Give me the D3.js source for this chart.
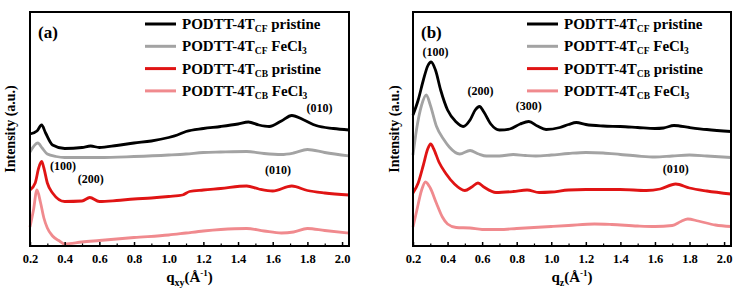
<!DOCTYPE html>
<html>
<head>
    <title>GIWAXS line cuts - PODTT-4T</title>
    <script src="https://d3js.org/d3.v7.min.js"></script>
    <style>
        body { margin: 0; background: #fff; }
        svg { display: block; }
        svg text { font-family: "Liberation Serif", "Times New Roman", serif; font-weight: bold; }
        .curve { fill: none; stroke-width: 2.8; stroke-linejoin: round; }
    </style>
</head>
<body>
    <svg width="739" height="293" font-family="Liberation Serif" font-weight="bold"></svg>
    <script>
        // series names / colours
        var solvents = ["CF", "CF", "CB", "CB"];
        var treatments = ["pristine", "FeCl", "pristine", "FeCl"];
        var colors = ["#000000", "#a3a3a3", "#e01414", "#f08a8e"];

        // tick values for q axis
        var majorTicks = [0.2, 0.4, 0.6, 0.8, 1.0, 1.2, 1.4, 1.6, 1.8, 2.0];
        var minorTicks = [0.3, 0.5, 0.7, 0.9, 1.1, 1.3, 1.5, 1.7, 1.9];

        // (a) in-plane q_xy cuts, [q, intensity a.u.]
        var a_cfPristine = [[0.2,112],[0.24,115],[0.267,121],[0.29,113],[0.33,101],[0.4,97.5],[0.5,98.5],[0.55,100],[0.6,98.5],[0.7,100.5],[0.8,103],[0.9,105],[1.0,108.5],[1.05,111],[1.1,114.5],[1.2,117.5],[1.3,119.5],[1.4,122],[1.46,124],[1.52,121],[1.58,119.5],[1.65,125],[1.71,130.5],[1.78,126],[1.85,120.5],[1.95,117.5],[2.04,116]];
        var a_cfFeCl3 = [[0.2,94],[0.245,103],[0.27,98],[0.3,92],[0.35,89.5],[0.4,88.5],[0.6,88.5],[0.8,89.5],[1.0,91],[1.1,92],[1.2,93.5],[1.3,94],[1.45,94.5],[1.55,92.5],[1.65,91.5],[1.72,93],[1.8,96.5],[1.9,93.5],[2.04,90]];
        var a_cbPristine = [[0.2,56],[0.23,63],[0.25,78],[0.267,84.5],[0.28,78],[0.3,63],[0.33,53],[0.4,44.5],[0.5,45],[0.545,48.5],[0.6,44.5],[0.7,45.5],[0.8,47],[0.9,48],[1.0,49.5],[1.08,51],[1.12,54.5],[1.2,56],[1.3,57.5],[1.45,60],[1.52,57],[1.6,55],[1.71,60],[1.8,55.5],[1.9,53],[2.04,51]];
        var a_cbFeCl3 = [[0.2,19],[0.22,36],[0.24,56],[0.26,44],[0.28,28],[0.3,18],[0.33,10],[0.37,5],[0.4,2],[0.5,4],[0.6,5.5],[0.8,8.5],[1.0,11],[1.1,13],[1.2,15],[1.3,16.5],[1.45,17.5],[1.55,15],[1.65,13],[1.72,14],[1.8,17.5],[1.9,15.5],[2.04,13]];

        // (b) out-of-plane q_z cuts
        var b_cfPristine = [[0.2,131],[0.23,146],[0.26,166],[0.285,180],[0.305,184],[0.33,176],[0.36,156],[0.4,136],[0.45,124],[0.49,119.5],[0.53,126],[0.56,136],[0.585,139.5],[0.61,134],[0.65,122],[0.7,116],[0.76,117],[0.82,122],[0.87,124.5],[0.92,120],[0.97,116.5],[1.05,118.5],[1.1,121.5],[1.145,123.5],[1.2,121.5],[1.3,120],[1.4,119.5],[1.5,118.5],[1.6,117.5],[1.65,118],[1.71,120.5],[1.8,118.5],[1.9,116.5],[2.04,114.5]];
        var b_cfFeCl3 = [[0.2,91],[0.22,116],[0.25,141],[0.277,151],[0.3,141],[0.335,120],[0.38,106],[0.41,99],[0.47,92],[0.53,95.5],[0.58,92],[0.625,90],[0.7,90],[0.78,91.5],[0.85,90.5],[0.91,90],[1.0,91],[1.1,92.5],[1.2,93.5],[1.3,93],[1.4,91.5],[1.5,90],[1.6,89],[1.7,90],[1.8,91],[1.9,90],[2.04,88.5]];
        var b_cbPristine = [[0.2,53],[0.23,63],[0.26,81],[0.285,97],[0.302,102],[0.32,97],[0.35,84],[0.39,72.5],[0.44,62],[0.5,55.5],[0.54,59],[0.576,63],[0.61,59],[0.68,53.5],[0.78,54.5],[0.86,56],[0.93,53.5],[1.0,54],[1.1,56],[1.2,56.5],[1.4,56.5],[1.55,55.5],[1.63,57],[1.72,62],[1.8,58],[1.9,55],[2.04,52]];
        var b_cbFeCl3 = [[0.2,19],[0.22,34],[0.25,56],[0.272,64],[0.3,58],[0.335,43],[0.37,29],[0.4,22],[0.45,18.5],[0.53,18],[0.6,16.5],[0.7,16.5],[0.8,17.5],[1.0,19.5],[1.1,20.5],[1.25,22],[1.35,21.5],[1.5,20],[1.6,19.5],[1.7,20.5],[1.75,24.5],[1.79,27],[1.85,25],[1.95,21],[2.04,19.5]];

        // peak annotations [q, intensity, label]
        var a_peaks = [[1.87,134,"(010)"],[0.39,76,"(100)"],[0.55,63,"(200)"],[1.63,72,"(010)"]];
        var b_peaks = [[0.33,190,"(100)"],[0.59,151,"(200)"],[0.87,136,"(300)"],[1.72,73,"(010)"]];

        var svg = d3.select("svg");

        function drawPanel(opt) {
            var x = d3.scaleLinear().domain([0.2, 2.04]).range([opt.left, opt.right]);
            var y = d3.scaleLinear().domain([0, 234]).range([246, 12]);
            var g = svg.append("g");

            var line = d3.line()
                .x(function(d) { return x(d[0]); })
                .y(function(d) { return y(d[1]); })
                .curve(d3.curveMonotoneX);

            // curves, bottom one first
            opt.series.slice().reverse().forEach(function(s, i) {
                var k = opt.series.length - 1 - i;
                g.append("path")
                    .datum(s)
                    .attr("class", "curve")
                    .attr("stroke", colors[k])
                    .attr("d", line);
            });

            // frame
            g.append("rect")
                .attr("x", opt.left).attr("y", 12)
                .attr("width", opt.right - opt.left).attr("height", 234)
                .attr("fill", "none").attr("stroke", "#000").attr("stroke-width", 2);

            // bottom axis, ticks pointing in
            var ax = g.append("g")
                .attr("transform", "translate(0,246)")
                .call(d3.axisBottom(x).tickValues(majorTicks).tickSize(-4).tickPadding(8)
                    .tickFormat(d3.format(".1f")));
            ax.attr("font-family", null).attr("font-size", null);
            ax.select(".domain").remove();
            ax.selectAll("line").attr("stroke-width", 1.5);
            ax.selectAll("text").attr("font-size", 12.5).attr("fill", "#000");

            var ax2 = g.append("g")
                .attr("transform", "translate(0,246)")
                .call(d3.axisBottom(x).tickValues(minorTicks).tickSize(-2.5).tickFormat(""));
            ax2.select(".domain").remove();
            ax2.selectAll("line").attr("stroke-width", 1.2);

            // x title
            var xt = g.append("text")
                .attr("x", (opt.left + opt.right) / 2)
                .attr("y", 282)
                .attr("text-anchor", "middle")
                .attr("font-size", 15);
            xt.append("tspan").text("q");
            xt.append("tspan").attr("font-size", 10).attr("dy", 4).text(opt.sub);
            xt.append("tspan").attr("dy", -4).text("(\u00C5");
            xt.append("tspan").attr("font-size", 9).attr("dy", -6).text("-1");
            xt.append("tspan").attr("dy", 6).text(")");

            // y title
            g.append("text")
                .attr("transform", "translate(" + opt.ylab + ",129) rotate(-90)")
                .attr("text-anchor", "middle")
                .attr("font-size", 14)
                .text("Intensity (a.u.)");

            // panel letter
            g.append("text")
                .attr("x", opt.left + 8).attr("y", 38)
                .attr("font-size", 17)
                .text(opt.letter);

            // legend
            var lx = opt.left + opt.legendX;
            solvents.forEach(function(sv, i) {
                var ly = 24 + i * 22.3;
                g.append("line")
                    .attr("x1", lx).attr("x2", lx + 31)
                    .attr("y1", ly).attr("y2", ly)
                    .attr("stroke", colors[i]).attr("stroke-width", 3);
                var t = g.append("text")
                    .attr("x", lx + 37).attr("y", ly + 5)
                    .attr("font-size", 15);
                t.append("tspan").text("PODTT-4T");
                t.append("tspan").attr("font-size", 9.5).attr("dy", 3).text(sv);
                if (treatments[i] === "FeCl") {
                    t.append("tspan").attr("dy", -3).text(" FeCl");
                    t.append("tspan").attr("font-size", 9.5).attr("dy", 3).text("3");
                } else {
                    t.append("tspan").attr("dy", -3).text(" " + treatments[i]);
                }
            });

            // peak labels
            opt.peaks.forEach(function(p) {
                g.append("text")
                    .attr("x", x(p[0])).attr("y", y(p[1]))
                    .attr("text-anchor", "middle")
                    .attr("font-size", 12)
                    .text(p[2]);
            });
        }

        drawPanel({
            left: 30, right: 349, ylab: 15, letter: "(a)", sub: "xy", legendX: 115,
            series: [a_cfPristine, a_cfFeCl3, a_cbPristine, a_cbFeCl3], peaks: a_peaks
        });
        drawPanel({
            left: 413, right: 731, ylab: 399, letter: "(b)", sub: "z", legendX: 114,
            series: [b_cfPristine, b_cfFeCl3, b_cbPristine, b_cbFeCl3], peaks: b_peaks
        });
    </script>
</body>
</html>
